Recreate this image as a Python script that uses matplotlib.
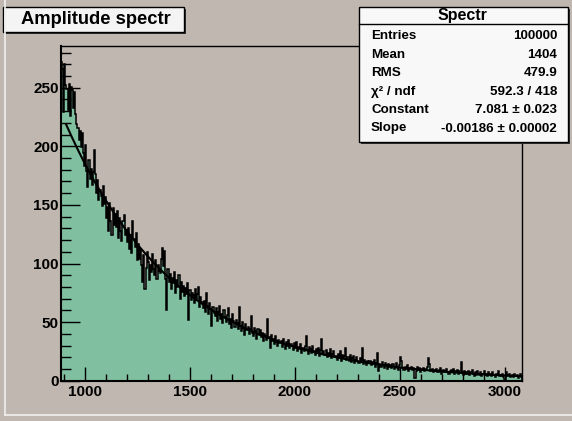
import numpy as np
import matplotlib
matplotlib.use('Agg')
import matplotlib.pyplot as plt
from matplotlib.patches import Rectangle
from matplotlib.lines import Line2D
from matplotlib.ticker import MultipleLocator

plt.rcParams['font.family'] = ['Liberation Sans', 'DejaVu Sans']
plt.rcParams['font.weight'] = 'bold'

# histogram settings
hist_min = 886
hist_max = 3081
fit_min = 910

# bin contents, 420 bins
counts = [
    272, 266, 229, 270, 252, 249, 231, 253, 226, 251,
    248, 233, 246, 228, 219, 216, 205, 213, 199, 211,
    194, 183, 201, 179, 165, 188, 172, 181, 167, 178,
    197, 176, 160, 171, 154, 163, 158, 149, 166, 151,
    157, 139, 148, 128, 152, 136, 124, 147, 133, 142,
    131, 145, 122, 139, 128, 119, 136, 141, 124, 129,
    118, 130, 112, 124, 109, 136, 121, 114, 126, 103,
    117, 104, 112, 99, 84, 107, 78, 96, 110, 101,
    86, 99, 93, 108, 95, 90, 103, 87, 99, 94,
    92, 104, 113, 98, 111, 87, 60, 95, 84, 91,
    78, 88, 83, 93, 75, 86, 80, 90, 70, 84,
    76, 81, 72, 79, 74, 83, 52, 77, 69, 75,
    73, 66, 78, 69, 74, 80, 63, 71, 67, 62,
    68, 59, 75, 64, 57, 66, 61, 47, 63, 58,
    55, 62, 51, 59, 64, 53, 57, 49, 60, 54,
    50, 56, 62, 48, 53, 45, 57, 51, 46, 52,
    49, 44, 63, 47, 42, 50, 45, 39, 48, 43,
    46, 40, 44, 55, 41, 38, 45, 42, 36, 44,
    39, 43, 37, 41, 34, 40, 38, 35, 53, 37,
    28, 39, 34, 36, 31, 38, 33, 30, 35, 32,
    34, 29, 36, 31, 27, 33, 30, 35, 28, 31,
    30, 26, 32, 28, 33, 25, 29, 27, 31, 24,
    28, 25, 30, 38, 26, 23, 29, 27, 24, 30,
    25, 22, 27, 24, 28, 21, 26, 36, 23, 25,
    22, 26, 20, 24, 21, 27, 19, 23, 25, 20,
    21, 18, 23, 20, 25, 17, 22, 19, 21, 28,
    18, 20, 17, 22, 16, 19, 21, 15, 18, 20,
    17, 15, 19, 16, 28, 14, 18, 16, 13, 17,
    15, 17, 13, 16, 14, 18, 12, 15, 24, 8,
    14, 12, 16, 13, 11, 15, 13, 10, 14, 12,
    13, 11, 14, 10, 12, 15, 11, 9, 13, 20,
    17, 11, 9, 12, 10, 13, 8, 11, 10, 12,
    9, 11, 2, 8, 12, 9, 11, 7, 10, 9,
    11, 8, 10, 12, 19, 14, 8, 9, 10, 7,
    9, 8, 10, 7, 9, 11, 6, 8, 9, 7,
    8, 10, 7, 6, 8, 9, 7, 10, 6, 8,
    7, 9, 6, 8, 16, 7, 5, 8, 6, 7,
    6, 8, 5, 7, 9, 6, 4, 7, 5, 8,
    6, 5, 7, 4, 6, 8, 5, 6, 4, 7,
    5, 6, 4, 7, 5, 3, 6, 5, 8, 4,
    5, 4, 6, 3, 1, 7, 4, 5, 6, 3,
    4, 5, 3, 6, 4, 5, 2, 4, 6, 3,
]

# fit results from the stats box
fit_const = 7.081
fit_slope = -0.00186

stat_labels = ['Entries', 'Mean', 'RMS', 'χ² / ndf', 'Constant', 'Slope']
stat_values = ['100000', '1404', '479.9', '592.3 / 418',
               '7.081 ± 0.023', '-0.00186 ± 0.00002']

bg = '#c0b8b0'
fill = '#80c0a0'

W, H = 572, 421
fig = plt.figure(figsize=(W / 100, H / 100), dpi=100)
fig.patch.set_facecolor(bg)

# axes placed in pixel coords (left, top, right, bottom)
L, T, R, B = 61, 46, 522, 380.7
ax = fig.add_axes([L / W, 1 - B / H, (R - L) / W, (B - T) / H])
ax.set_facecolor(bg)

edges = np.linspace(hist_min, hist_max, len(counts) + 1)
ax.stairs(counts, edges, fill=True, color=fill, lw=0)
ax.stairs(counts, edges, color='black', lw=1.1)

xf = np.linspace(fit_min, hist_max, 400)
ax.plot(xf, np.exp(fit_const + fit_slope * xf), color='black', lw=1.5)

ax.set_xlim(hist_min, hist_max)
ax.set_ylim(0, 285.6)

ax.xaxis.set_major_locator(MultipleLocator(500))
ax.xaxis.set_minor_locator(MultipleLocator(100))
ax.yaxis.set_major_locator(MultipleLocator(50))
ax.yaxis.set_minor_locator(MultipleLocator(10))
ax.tick_params(axis='x', which='major', direction='in', length=10, width=1, pad=3, labelsize=11)
ax.tick_params(axis='x', which='minor', direction='in', length=5, width=1)
ax.tick_params(axis='y', which='major', direction='in', length=14, width=1, pad=1.5, labelsize=11)
ax.tick_params(axis='y', which='minor', direction='in', length=7, width=1)
for lab in ax.get_xticklabels() + ax.get_yticklabels():
    lab.set_fontweight('bold')
for s in ['left', 'bottom']:
    ax.spines[s].set_linewidth(1.5)
for s in ['top', 'right']:
    ax.spines[s].set_linewidth(1.0)


def px_rect(x0, y0, x1, y1, **kw):
    # rectangle given in pixel coords with origin at the top-left
    r = Rectangle((x0 / W, 1 - y1 / H), (x1 - x0) / W, (y1 - y0) / H,
                  transform=fig.transFigure, **kw)
    fig.add_artist(r)


# canvas bevel
fig.add_artist(Line2D([4.5 / W, 4.5 / W], [1 - 414.5 / H, 1], transform=fig.transFigure,
                      color='#f0f0f0', lw=1.2))
fig.add_artist(Line2D([4.5 / W, 1], [1 - 414.5 / H, 1 - 414.5 / H], transform=fig.transFigure,
                      color='#f0f0f0', lw=1.2))

# title box with shadow
px_rect(5, 9, 186, 34, facecolor='#303030', edgecolor='none')
px_rect(3, 7, 184, 32, facecolor='#f4f4f4', edgecolor='black', lw=1)
fig.text(96 / W, 1 - 19.5 / H, 'Amplitude spectr', ha='center', va='center',
         fontsize=13.2, fontweight='bold')

# stats box with shadow
px_rect(361, 9, 570, 144, facecolor='#303030', edgecolor='none')
px_rect(359, 7, 568, 142, facecolor='#f8f8f8', edgecolor='black', lw=1)
fig.add_artist(Line2D([359 / W, 568 / W], [1 - 23.5 / H, 1 - 23.5 / H],
                      transform=fig.transFigure, color='black', lw=1))
fig.text(462 / W, 1 - 15.5 / H, 'Spectr', ha='center', va='center',
         fontsize=11.5, fontweight='bold')
row_y = [36, 55, 73, 92, 110, 128.5]
for lab, val, yy in zip(stat_labels, stat_values, row_y):
    fig.text(371 / W, 1 - yy / H, lab, ha='left', va='center', fontsize=9.6, fontweight='bold')
    fig.text(557 / W, 1 - yy / H, val, ha='right', va='center', fontsize=9.6, fontweight='bold')

fig.savefig('out.png', dpi=100, facecolor=bg)
